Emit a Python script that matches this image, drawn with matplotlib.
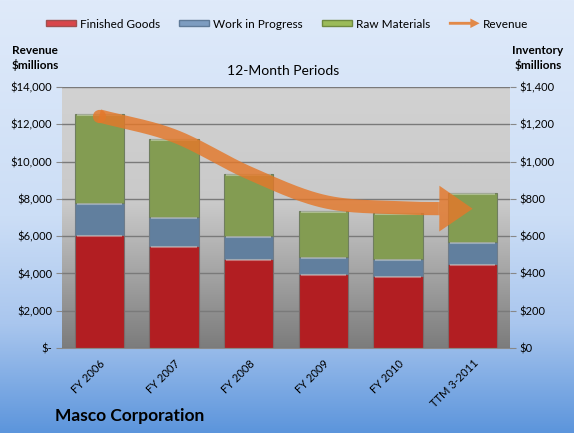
import numpy as np
import matplotlib
matplotlib.use("Agg")
import matplotlib.pyplot as plt
from matplotlib.colors import LinearSegmentedColormap
from matplotlib.ticker import FuncFormatter
from matplotlib.patches import Patch, FancyArrow
from matplotlib.legend_handler import HandlerPatch

plt.rcParams['font.family'] = ['Lato', 'DejaVu Sans']

# data ($ millions)
periods = ['FY 2006', 'FY 2007', 'FY 2008', 'FY 2009', 'FY 2010', 'TTM 3-2011']
finished_goods = [606, 547, 476, 398, 386, 453]
work_in_progress = [171, 155, 127, 92, 94, 114]
raw_materials = [480, 421, 330, 243, 243, 263]
revenue = [12450, 11380, 9400, 7870, 7520, 7470]

red = '#b21e22'
blue = '#617f9e'
green = '#839c52'
orange = '#e4782a'

fig = plt.figure(figsize=(5.74, 4.33), dpi=100)

# figure background gradient
bg = fig.add_axes([0, 0, 1, 1], zorder=-10)
bg_cmap = LinearSegmentedColormap.from_list(
    'bg', [(0, '#dfeafa'), (0.5, '#ccdef6'), (0.75, '#a9c6ee'), (1, '#5c95dc')])
bg.imshow(np.linspace(0, 1, 256).reshape(-1, 1), aspect='auto', cmap=bg_cmap,
          extent=[0, 1, 0, 1], origin='upper')
bg.axis('off')

left, right, bottom, top = 62/574, 510/574, 1-348/433, 1-87/433
ax2 = fig.add_axes([left, bottom, right-left, top-bottom])
ax = ax2.twinx()
ax.set_zorder(ax2.get_zorder() + 1)
ax.patch.set_visible(False)

# plot area gradient
pa_cmap = LinearSegmentedColormap.from_list(
    'pa', [(0, '#d2d2d2'), (0.45, '#c9c9c9'), (1, '#7c7c7c')])
ax2.imshow(np.linspace(0, 1, 256).reshape(-1, 1), aspect='auto', cmap=pa_cmap,
           extent=[0, 1, 0, 1], origin='upper', transform=ax2.transAxes, zorder=-1)

x = np.arange(len(periods))
fg = np.array(finished_goods)
wip = np.array(work_in_progress)
raw = np.array(raw_materials)
bw = 0.665
ax2.bar(x, fg, bw, color=red, edgecolor='#7a6a6a', lw=0.8, zorder=2)
ax2.bar(x, wip, bw, bottom=fg, color=blue, edgecolor='#6e7c8a', lw=0.8, zorder=2)
ax2.bar(x, raw, bw, bottom=fg + wip, color=green, edgecolor='#6f7d5f', lw=0.8, zorder=2)
# light top highlight on each segment
for b, h in [(np.zeros(6), fg), (fg, wip), (fg + wip, raw)]:
    ax2.hlines(b + h - 6, x - bw/2 + 0.03, x + bw/2 - 0.03, colors='white', alpha=0.35, lw=1.5, zorder=3)

ax2.set_xlim(-0.5, 5.5)
ax2.set_ylim(0, 1400)
ax2.set_yticks(range(0, 1401, 200))
ax2.yaxis.set_major_formatter(FuncFormatter(lambda v, p: f'${v:,.0f}'))
ax2.yaxis.tick_right()
ax2.grid(axis='y', color='#7a7a7a', lw=1)
ax2.set_axisbelow(True)
ax2.tick_params(axis='y', length=4, color='#888888', labelsize=8, pad=3)
ax2.set_xticks(x)
ax2.set_xticklabels(periods, rotation=45, ha='right', rotation_mode='anchor', fontsize=8)
ax2.tick_params(axis='x', length=0, pad=7)
for s in ['top', 'left', 'right']:
    ax2.spines[s].set_visible(False)
ax2.spines['bottom'].set_color('#8a8a8a')

# revenue: smoothed line (Catmull-Rom through the points) ending in an arrow
rv = np.array(revenue, dtype=float)
tang = np.gradient(rv)
xs, ys = [], []
for i in range(len(rv) - 1):
    t = np.linspace(0, 1, 40)
    h00 = 2*t**3 - 3*t**2 + 1
    h10 = t**3 - 2*t**2 + t
    h01 = -2*t**3 + 3*t**2
    h11 = t**3 - t**2
    xs.extend(x[i] + t)
    ys.extend(h00*rv[i] + h10*tang[i] + h01*rv[i+1] + h11*tang[i+1])
xs = np.array(xs)
ys = np.array(ys)
head = 0.44
keep = xs <= x[-1] - head
ax.plot(xs[keep], ys[keep], color=orange, lw=9.5, alpha=0.82,
        solid_capstyle='butt', zorder=5)
ax.plot(xs[0], ys[0], 'o', ms=9.5, color=orange, alpha=0.82, mec='none', zorder=5)
ax.annotate('', xy=(x[-1], rv[-1]), xytext=(xs[keep][-1], ys[keep][-1]),
            arrowprops=dict(width=9.5, headwidth=33, headlength=24, shrink=0,
                            color=orange, alpha=0.82, lw=0), zorder=5)

ax.set_ylim(0, 14000)
ax.set_yticks(range(0, 14001, 2000))
ax.yaxis.set_major_formatter(FuncFormatter(lambda v, p: '$-' if v == 0 else f'${v:,.0f}'))
ax.yaxis.tick_left()
ax.tick_params(axis='y', length=4, color='#888888', labelsize=8, pad=3)
for s in ax.spines.values():
    s.set_visible(False)

# legend
class ArrowHandler(HandlerPatch):
    def create_artists(self, legend, orig_handle, xdescent, ydescent, width, height, fontsize, trans):
        arr = FancyArrow(-xdescent, -ydescent + height/2, width, 0, width=height*0.45,
                         head_width=height*1.5, head_length=width*0.3,
                         length_includes_head=True, color=orange, alpha=0.85, lw=0,
                         transform=trans)
        return [arr]

handles = [Patch(facecolor='#d9464b', edgecolor='#a05050'),
           Patch(facecolor='#7d9cc0', edgecolor='#5f7a98'),
           Patch(facecolor='#9bbb59', edgecolor='#6f8a40'),
           Patch(facecolor=orange)]
labels = ['Finished Goods', 'Work in Progress', 'Raw Materials', 'Revenue']
fig.legend(handles, labels, loc='center', bbox_to_anchor=(0.5, 1 - 24/433), ncol=4,
           frameon=False, fontsize=8.5, handlelength=2.6, handleheight=0.45,
           handletextpad=0.3, columnspacing=1.6,
           handler_map={handles[3]: ArrowHandler()})

fig.text(35/574, 1 - 58/433, 'Revenue\n$millions', ha='center', va='center',
         fontsize=8.5, fontweight='bold', linespacing=1.3)
fig.text(538/574, 1 - 58/433, 'Inventory\n$millions', ha='center', va='center',
         fontsize=8.5, fontweight='bold', linespacing=1.3)
fig.text(283/574, 1 - 71/433, '12-Month Periods', ha='center', va='center', fontsize=10)
fig.text(55/574, 1 - 416/433, 'Masco Corporation', ha='left', va='center',
         fontsize=12.5, fontweight='bold')

fig.savefig('out.png', dpi=100)
